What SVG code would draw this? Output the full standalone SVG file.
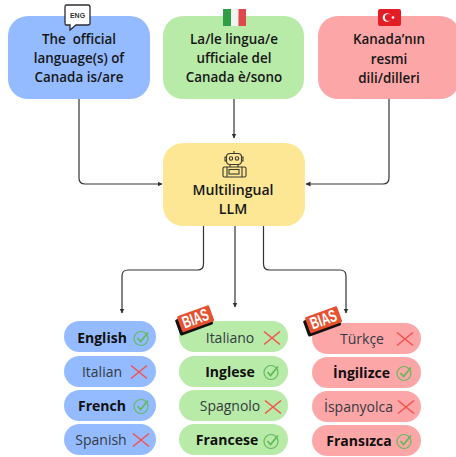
<svg xmlns="http://www.w3.org/2000/svg" width="456" height="457" viewBox="0 0 456 457">
<style>
text{font-family:"Open Sans","Noto Sans",sans-serif;fill:#161616;text-anchor:middle}
.h{font-size:13.4px;font-weight:600;white-space:pre}
.p{font-size:14px;font-weight:400;fill:#333a40}
.b{font-size:14px;font-weight:700;fill:#101010}
.c{fill:none;stroke:#333;stroke-width:1.2}
.blue{fill:#94bbff}.green{fill:#b8eaa8}.red{fill:#fda6a8}.yellow{fill:#fde795}
.x{fill:none;stroke:#f2534e;stroke-width:1.6}
.k{fill:none;stroke:#62bb5c;stroke-width:1.2}
.t{fill:none;stroke:#62bb5c;stroke-width:1.8}
.ic{fill:none;stroke:#3a3a30;stroke-width:1.1}
.bt{font-family:"Liberation Sans",sans-serif;font-size:17px;font-weight:700;fill:#fff}
</style>
<defs>
<marker id="a" markerWidth="6" markerHeight="6" refX="4.5" refY="2.5" orient="auto" markerUnits="userSpaceOnUse"><path d="M0 0L5 2.5L0 5z" fill="#333"/></marker>
<g id="x"><path class="x" d="M-8-6.500L8 6.500M8-6.500L-8 6.500"/></g>
<g id="ok"><circle class="k" cx="0" cy="0.5" r="7"/><path class="t" d="M-3.500 0L-0.500 3.500L7-5.500"/></g>
<g id="bias"><rect x="-19" y="-7" width="35" height="17" rx="1.500" fill="#111"/><rect x="-16" y="-9.500" width="34" height="17" rx="1.500" fill="#e8502f"/><text class="bt" x="1" y="4.500" textLength="27" lengthAdjust="spacingAndGlyphs">BIAS</text></g>
</defs>
<rect width="456" height="457" fill="#fff"/>
<g id="connectors">
<path class="c" d="M79 99V178Q79 184 85 184H162" marker-end="url(#a)"/>
<path class="c" d="M234 99V138" marker-end="url(#a)"/>
<path class="c" d="M389 99V178Q389 184 383 184H306" marker-end="url(#a)"/>
<path class="c" d="M203.500 226V264Q203.500 270 197.500 270H128Q122 270 122 276V313" marker-end="url(#a)"/>
<path class="c" d="M235 226V307" marker-end="url(#a)"/>
<path class="c" d="M263.500 226V264Q263.500 270 269.500 270H340Q346 270 346 276V313" marker-end="url(#a)"/>
</g>
<g id="node-en"><rect class="blue" x="8" y="16" width="142" height="83" rx="20"/>
<text class="h" x="79" y="44">The  official</text><text class="h" x="79" y="63">language(s) of</text><text class="h" x="79" y="82">Canada is/are</text>
<path d="M66 5H88Q90 5 90 7V23Q90 25 88 25H76L70 30V25H66Q65 25 65 23V7Q65 5 66 5Z" fill="#fff" stroke="#2b2b33" stroke-width="1.3"/>
<text x="77.500" y="18" style="font-size:7px;font-weight:700;font-family:'Liberation Sans',sans-serif;fill:#333">ENG</text></g>
<g id="node-it"><rect class="green" x="163" y="16" width="141" height="83" rx="20"/>
<rect x="223" y="9" width="8" height="17" fill="#2f9e44"/><rect x="231" y="9" width="7.500" height="17" fill="#f2f2f2"/><rect x="238.500" y="9" width="7.500" height="17" fill="#e0474c"/>
<text class="h" x="234" y="44">La/le lingua/e</text><text class="h" x="234" y="63">ufficiale del</text><text class="h" x="234" y="82">Canada è/sono</text></g>
<g id="node-tr"><rect class="red" x="318" y="16" width="142" height="83" rx="20"/>
<rect x="378" y="9" width="23" height="17" rx="2" fill="#e21d26"/><circle cx="387" cy="17.500" r="4.300" fill="#fff"/><circle cx="388.300" cy="17.500" r="3.400" fill="#e21d26"/><circle cx="393" cy="17.500" r="1.300" fill="#fff"/>
<text class="h" x="389" y="44">Kanada’nın</text><text class="h" x="389" y="64">resmi</text><text class="h" x="389" y="83">dili/dilleri</text></g>
<g id="node-llm"><rect class="yellow" x="163" y="143" width="142" height="83" rx="20"/>
<g class="ic"><rect x="226.500" y="153.500" width="15" height="11" rx="3.500"/><circle cx="231" cy="158.500" r="1.700"/><circle cx="237" cy="158.500" r="1.700"/><path d="M234 153.500V151M226.500 157H225V161H226.500M241.500 157H243V161H241.500M230 164.500V167M238 164.500V167"/><rect x="223" y="167" width="23" height="10" rx="1.500"/><rect x="229" y="169.500" width="10" height="4.500"/><path d="M227 167V177M242 167V177"/></g>
<text class="h" x="233" y="195" style="font-size:14.100px">Multilingual</text><text class="h" x="233" y="214" style="font-size:14.100px">LLM</text></g>
<g id="list-en">
<rect class="blue" x="64" y="321" width="92" height="31" rx="15.500"/><text class="b" x="102" y="343">English</text><use href="#ok" transform="translate(141 338)"/>
<rect class="blue" x="64" y="356" width="92" height="31" rx="15.500"/><text class="p" x="102" y="377">Italian</text><use href="#x" transform="translate(139 372)"/>
<rect class="blue" x="64" y="390" width="92" height="31" rx="15.500"/><text class="b" x="102" y="411">French</text><use href="#ok" transform="translate(141 406)"/>
<rect class="blue" x="64" y="424" width="92" height="31" rx="15.500"/><text class="p" x="101" y="445">Spanish</text><use href="#x" transform="translate(141 440)"/>
</g>
<g id="list-it">
<rect class="green" x="179" y="321" width="109" height="31" rx="15.500"/><text class="p" x="230" y="343">Italiano</text><use href="#x" transform="translate(272 338)"/>
<rect class="green" x="179" y="356" width="109" height="31" rx="15.500"/><text class="b" x="230" y="377">Inglese</text><use href="#ok" transform="translate(271 372)"/>
<rect class="green" x="179" y="390" width="109" height="31" rx="15.500"/><text class="p" x="230" y="411">Spagnolo</text><use href="#x" transform="translate(273 407)"/>
<rect class="green" x="179" y="424" width="109" height="31" rx="15.500"/><text class="b" x="227" y="445">Francese</text><use href="#ok" transform="translate(271 441)"/>
<use id="bias-it" href="#bias" transform="translate(195 320) rotate(-20)"/>
</g>
<g id="list-tr">
<rect class="red" x="312" y="323" width="109" height="31" rx="15.500"/><text class="p" x="362" y="344">Türkçe</text><use href="#x" transform="translate(405 339)"/>
<rect class="red" x="312" y="357" width="109" height="31" rx="15.500"/><text class="b" x="361.500" y="378">İngilizce</text><use href="#ok" transform="translate(404 373)"/>
<rect class="red" x="312" y="391" width="109" height="31" rx="15.500"/><text class="p" x="358.500" y="412">İspanyolca</text><use href="#x" transform="translate(406 407)"/>
<rect class="red" x="312" y="425" width="109" height="31" rx="15.500"/><text class="b" x="359" y="446">Fransızca</text><use href="#ok" transform="translate(404 441)"/>
<use id="bias-tr" href="#bias" transform="translate(323 321) rotate(-20)"/>
</g>
</svg>
